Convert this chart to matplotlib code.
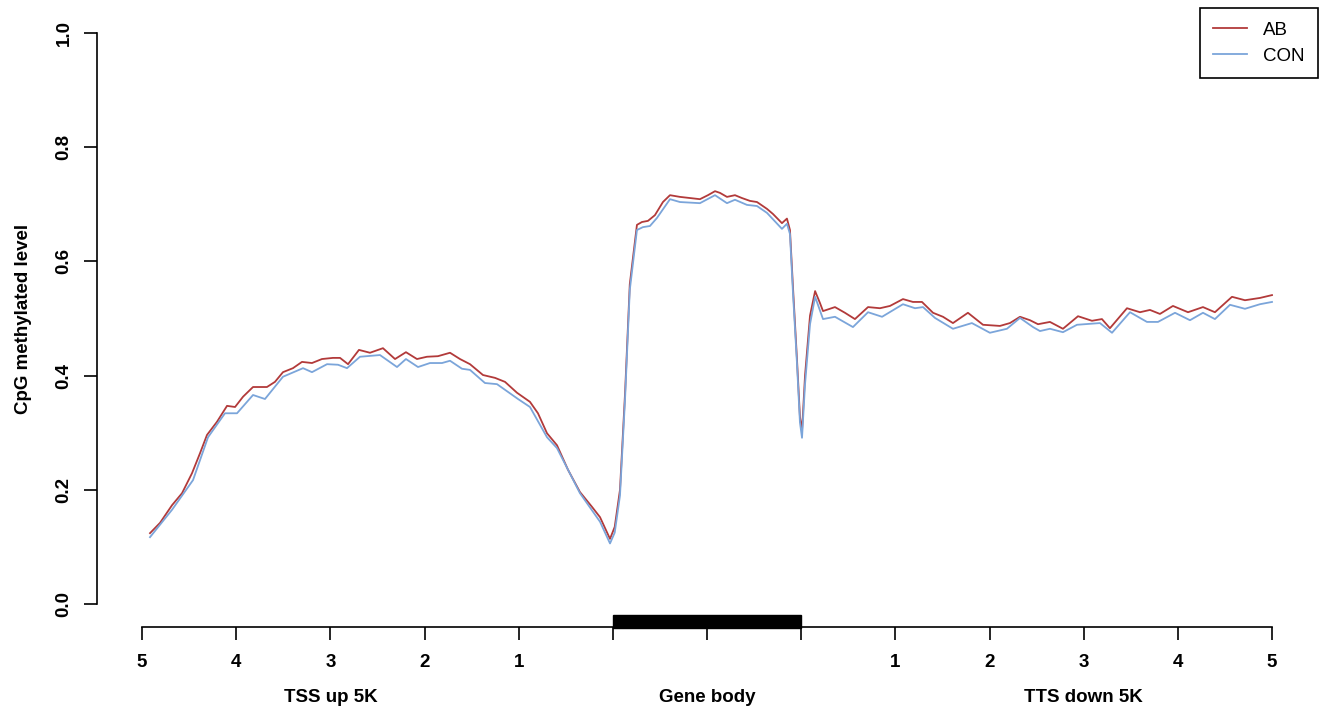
import matplotlib
matplotlib.use("Agg")
import matplotlib.pyplot as plt
from matplotlib.patches import Rectangle
from matplotlib.lines import Line2D

plt.rcParams['font.family'] = ['Liberation Sans', 'DejaVu Sans']

# ---- data (x in region units: 0-5 TSS upstream, 5-7 gene body, 7-12 TTS downstream)
ab_x = [0.085, 0.191, 0.319, 0.425, 0.531, 0.616, 0.690, 0.796, 0.903, 0.988,
        1.073, 1.179, 1.327, 1.412, 1.497, 1.603, 1.699, 1.805, 1.911, 2.028,
        2.103, 2.188, 2.304, 2.421, 2.559, 2.687, 2.803, 2.920, 3.026, 3.143,
        3.271, 3.377, 3.483, 3.621, 3.749, 3.855, 3.982, 4.120, 4.205, 4.301,
        4.407, 4.524, 4.651, 4.779, 4.864, 4.970, 5.020, 5.076, 5.130, 5.180,
        5.256, 5.309, 5.373, 5.447, 5.532, 5.607, 5.713, 5.819, 5.925, 6.010,
        6.085, 6.138, 6.212, 6.297, 6.371, 6.456, 6.531, 6.637, 6.701, 6.796,
        6.849, 6.881, 6.913, 6.956, 6.987, 7.009, 7.041, 7.094, 7.148, 7.200,
        7.232, 7.359, 7.465, 7.571, 7.710, 7.837, 7.943, 8.081, 8.187, 8.283,
        8.400, 8.506, 8.612, 8.771, 8.931, 9.111, 9.217, 9.324, 9.430, 9.515,
        9.642, 9.780, 9.940, 10.088, 10.194, 10.279, 10.460, 10.598, 10.704, 10.810,
        10.948, 11.108, 11.267, 11.394, 11.575, 11.713, 11.872, 12.000]
ab_y = [0.124, 0.142, 0.173, 0.194, 0.229, 0.264, 0.296, 0.319, 0.347, 0.345,
        0.363, 0.380, 0.380, 0.389, 0.406, 0.413, 0.424, 0.422, 0.429, 0.431,
        0.431, 0.420, 0.445, 0.440, 0.448, 0.429, 0.441, 0.429, 0.433, 0.434,
        0.440, 0.429, 0.420, 0.401, 0.396, 0.389, 0.370, 0.354, 0.334, 0.299,
        0.278, 0.235, 0.196, 0.170, 0.152, 0.114, 0.135, 0.200, 0.370, 0.560,
        0.664, 0.669, 0.671, 0.681, 0.704, 0.716, 0.713, 0.711, 0.709, 0.716,
        0.723, 0.720, 0.713, 0.716, 0.711, 0.706, 0.704, 0.692, 0.683, 0.667,
        0.675, 0.655, 0.555, 0.427, 0.328, 0.303, 0.400, 0.505, 0.548, 0.527,
        0.513, 0.520, 0.510, 0.499, 0.520, 0.518, 0.522, 0.534, 0.529, 0.529,
        0.510, 0.503, 0.492, 0.510, 0.489, 0.487, 0.492, 0.503, 0.497, 0.490,
        0.494, 0.482, 0.504, 0.496, 0.499, 0.483, 0.518, 0.511, 0.515, 0.508,
        0.522, 0.511, 0.520, 0.511, 0.538, 0.532, 0.536, 0.541]

con_x = [0.085, 0.319, 0.542, 0.701, 0.881, 1.009, 1.179, 1.306, 1.497, 1.710,
         1.805, 1.965, 2.082, 2.177, 2.315, 2.527, 2.708, 2.803, 2.931, 3.058,
         3.186, 3.271, 3.398, 3.483, 3.642, 3.770, 3.993, 4.120, 4.301, 4.407,
         4.651, 4.864, 4.970, 5.020, 5.076, 5.130, 5.180, 5.256, 5.319, 5.394,
         5.468, 5.607, 5.713, 5.925, 6.085, 6.212, 6.297, 6.424, 6.531, 6.637,
         6.796, 6.849, 6.881, 6.913, 6.956, 6.987, 7.009, 7.041, 7.094, 7.148,
         7.232, 7.359, 7.550, 7.710, 7.859, 8.081, 8.209, 8.294, 8.421, 8.612,
         8.813, 9.004, 9.185, 9.324, 9.462, 9.536, 9.642, 9.780, 9.929, 10.173,
         10.301, 10.492, 10.672, 10.789, 10.970, 11.129, 11.267, 11.394, 11.554, 11.713,
         11.872, 12.000]
con_y = [0.117, 0.165, 0.217, 0.292, 0.334, 0.334, 0.366, 0.359, 0.398, 0.413,
         0.406, 0.420, 0.419, 0.413, 0.433, 0.436, 0.415, 0.429, 0.415, 0.422,
         0.422, 0.426, 0.412, 0.410, 0.387, 0.385, 0.359, 0.345, 0.292, 0.273,
         0.194, 0.144, 0.106, 0.125, 0.190, 0.360, 0.550, 0.655, 0.660, 0.662,
         0.676, 0.709, 0.704, 0.702, 0.716, 0.702, 0.708, 0.699, 0.697, 0.685,
         0.657, 0.666, 0.648, 0.545, 0.420, 0.318, 0.291, 0.385, 0.490, 0.538,
         0.499, 0.503, 0.485, 0.511, 0.503, 0.525, 0.518, 0.520, 0.501, 0.482,
         0.492, 0.475, 0.482, 0.501, 0.485, 0.478, 0.482, 0.476, 0.489, 0.492,
         0.475, 0.511, 0.494, 0.494, 0.510, 0.497, 0.510, 0.499, 0.524, 0.517,
         0.525, 0.529]

series_names = ["AB", "CON"]
series_colors = ["#B23A3A", "#7BA5DA"]

x_ticks = [0, 1, 2, 3, 4, 5, 6, 7, 8, 9, 10, 11, 12]
x_tick_labels = ["5", "4", "3", "2", "1", "", "", "", "1", "2", "3", "4", "5"]
y_ticks = [0.0, 0.2, 0.4, 0.6, 0.8, 1.0]
y_tick_labels = ["0.0", "0.2", "0.4", "0.6", "0.8", "1.0"]
region_labels = ["TSS up 5K", "Gene body", "TTS down 5K"]
region_centers = [2, 6, 10]
gene_body = (5, 7)
y_title = "CpG methylated level"

# ---- figure
fig = plt.figure(figsize=(13.26, 7.13), dpi=100)
ax = fig.add_axes([96.8 / 1326, (713 - 626.8) / 713, 1220.4 / 1326, 616.6 / 713])

ax.plot(ab_x, ab_y, color=series_colors[0], lw=1.3, solid_joinstyle='round')
ax.plot(con_x, con_y, color=series_colors[1], lw=1.3, solid_joinstyle='round')

ax.set_xlim(-0.48, 12.48)
ax.set_ylim(-0.04, 1.04)

for s in ['top', 'right']:
    ax.spines[s].set_visible(False)
ax.spines['left'].set_bounds(0, 1)
ax.spines['bottom'].set_bounds(0, 12)
for s in ['left', 'bottom']:
    ax.spines[s].set_linewidth(1.2)

ax.set_xticks(x_ticks)
ax.set_xticklabels(x_tick_labels, fontsize=13.5, fontweight='bold')
ax.set_yticks(y_ticks)
ax.set_yticklabels(y_tick_labels, fontsize=13.5, fontweight='bold', rotation=90, va='center')
ax.tick_params(axis='both', direction='out', length=9.5, width=1.2, color='black')
ax.tick_params(axis='x', pad=10)
ax.tick_params(axis='y', pad=8)

# gene body bar
ax.add_patch(Rectangle((gene_body[0], -0.042), gene_body[1] - gene_body[0], 0.023,
                       facecolor='black', edgecolor='black', clip_on=False, zorder=5))

for lab, cx in zip(region_labels, region_centers):
    ax.annotate(lab, xy=(cx, 0), xycoords=('data', 'axes fraction'),
                xytext=(0, -51), textcoords='offset points',
                ha='center', va='center', fontsize=13.5, fontweight='bold',
                annotation_clip=False)

ax.set_ylabel(y_title, fontsize=13.5, fontweight='bold')
ax.yaxis.set_label_coords(-0.053, 0.5)

handles = [Line2D([], [], color=c, lw=1.3) for c in series_colors]
leg = ax.legend(handles, series_names, loc='upper right', bbox_to_anchor=(1.0008, 1.003),
                borderaxespad=0, fancybox=False, edgecolor='black', framealpha=1,
                fontsize=13.5, handlelength=1.8, handletextpad=0.85, labelspacing=0.45,
                borderpad=0.72)
leg.get_frame().set_linewidth(1.2)

fig.savefig("out.png", dpi=100)
